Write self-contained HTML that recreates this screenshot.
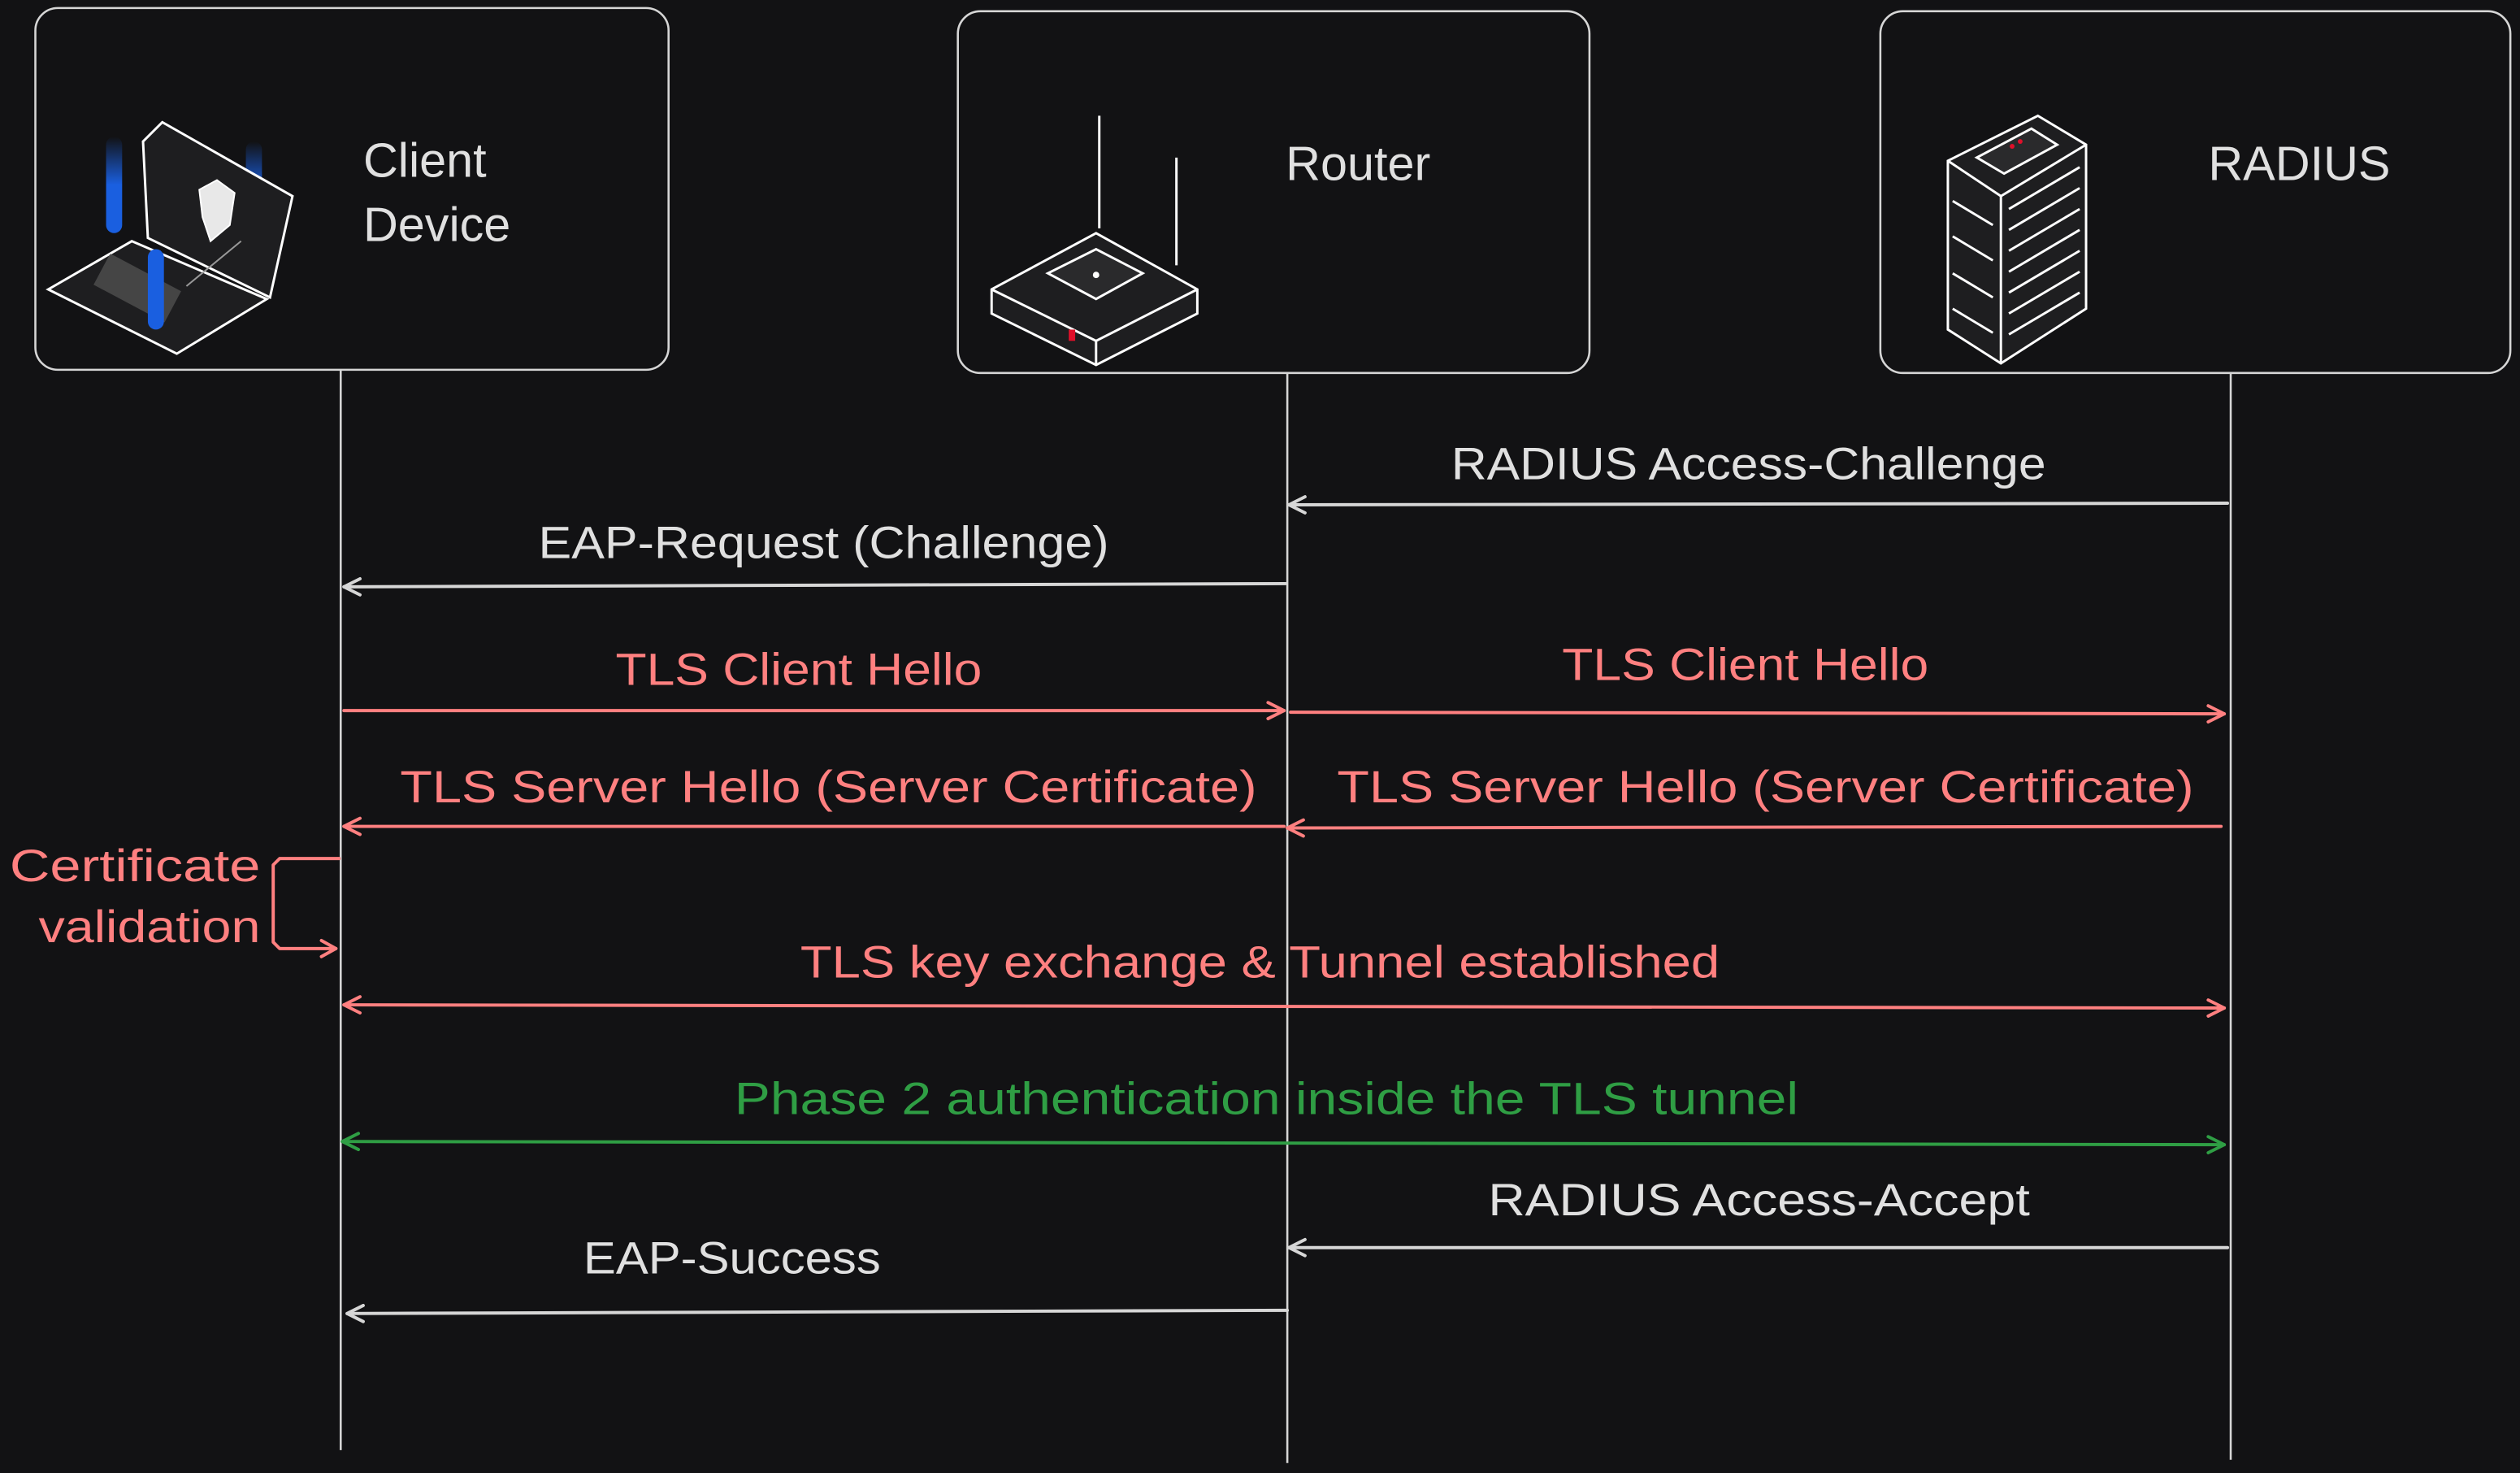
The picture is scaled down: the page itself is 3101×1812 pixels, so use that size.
<!DOCTYPE html>
<html><head><meta charset="utf-8"><style>
html,body{margin:0;padding:0;background:#121214;}
svg{display:block;}
text{font-family:"Liberation Sans",sans-serif;}
</style></head><body>
<svg width="3101" height="1812" viewBox="0 0 1568 916.2" preserveAspectRatio="none" xmlns="http://www.w3.org/2000/svg">
<defs>
<linearGradient id="bl" x1="0" y1="0" x2="0" y2="1"><stop offset="0" stop-color="#1a5fe0" stop-opacity="0"/><stop offset="0.5" stop-color="#1a5fe0"/><stop offset="1" stop-color="#1a5fe0"/></linearGradient>
</defs>
<rect width="1568" height="917" fill="#121214"/>
<!-- boxes -->
<g fill="#121214" stroke="#d6d6d6" stroke-width="1.3">
<rect x="22" y="5" width="394" height="225" rx="14"/>
<rect x="596" y="7" width="393" height="225" rx="14"/>
<rect x="1170" y="7" width="392" height="225" rx="14"/>
</g>
<!-- lifelines -->
<g stroke="#d6d6d6" stroke-width="1.3">
<line x1="212" y1="230" x2="212" y2="902"/>
<line x1="801" y1="232" x2="801" y2="910"/>
<line x1="1388" y1="232" x2="1388" y2="908"/>
</g>
<!-- titles -->
<g fill="#e0e0e0" font-size="30">
<text x="226" y="110">Client</text>
<text x="226" y="150">Device</text>
<text x="800" y="112">Router</text>
<text x="1374" y="112">RADIUS</text>
</g>
<!-- laptop icon -->
<rect x="66" y="85" width="10" height="60" rx="5" fill="url(#bl)"/>
<rect x="153" y="88" width="10" height="60" rx="5" fill="url(#bl)"/>
<g stroke="#fff" stroke-width="1.5" fill="#1e1e20">
<polygon points="89,88 101,76 182,122 168,185 92,148"/>
<polygon points="30,180 82,150 166,186 110,220"/>
</g>
<path d="M124,118 L135,112 L146,120 L143,140 L131,150 L126,135 Z" fill="#e8e8e8" stroke="#fff"/>
<line x1="116" y1="178" x2="150" y2="150" stroke="#999" stroke-width="1"/>
<rect x="60" y="168" width="50" height="22" fill="#555" transform="rotate(28 85 180)" opacity="0.7"/>
<rect x="92" y="155" width="10" height="50" rx="5" fill="#1a5fe0"/>
<!-- router icon -->
<g stroke="#fff" stroke-width="1.5" fill="#1e1e20">
<line x1="684" y1="72" x2="684" y2="142"/>
<line x1="732" y1="98" x2="732" y2="165"/>
<polygon points="617,180 682,145 745,180 745,195 682,227 617,195"/>
<polyline points="617,180 682,212 745,180" fill="none"/>
<line x1="682" y1="212" x2="682" y2="227"/>
<polygon points="652,170 682,155 711,170 682,186" fill="#2a2a2c"/>
</g>
<circle cx="682" cy="171" r="2" fill="#fff"/>
<rect x="665" y="205" width="4" height="7" fill="#e0102a"/>
<!-- server icon -->
<g stroke="#fff" stroke-width="1.5" fill="#1e1e20">
<polygon points="1212,100 1268,72 1298,90 1298,192 1245,226 1212,205"/>
<polyline points="1212,100 1245,122 1298,90" fill="none"/>
<line x1="1245" y1="122" x2="1245" y2="226"/>
<polygon points="1230,98 1264,80 1280,90 1247,108" fill="#2a2a2c"/>
<path d="M1250,130 L1294,104 M1250,143 L1294,117 M1250,156 L1294,130 M1250,169 L1294,143 M1250,182 L1294,156 M1250,195 L1294,169 M1250,208 L1294,182" fill="none"/>
<path d="M1215,125 L1240,140 M1215,147 L1240,162 M1215,170 L1240,185 M1215,192 L1240,207" fill="none"/>
</g>
<circle cx="1252" cy="91" r="1.5" fill="#e0102a"/><circle cx="1257" cy="88" r="1.5" fill="#e0102a"/>
<!-- arrows -->
<g fill="none" stroke-width="2" stroke-linecap="round" stroke-linejoin="round">
<g stroke="#d6d6d6">
<line x1="1386" y1="313" x2="802" y2="314"/><polyline points="812,309 802,314 812,319"/>
<line x1="800" y1="363" x2="214" y2="365"/><polyline points="224,360 214,365 224,370"/>
<line x1="1386" y1="776" x2="802" y2="776"/><polyline points="812,771 802,776 812,781"/>
<line x1="801" y1="815" x2="216" y2="817"/><polyline points="226,812 216,817 226,822"/>
</g>
<g stroke="#ff8080">
<line x1="214" y1="442" x2="799" y2="442"/><polyline points="789,437 799,442 789,447"/>
<line x1="803" y1="443" x2="1384" y2="444"/><polyline points="1374,439 1384,444 1374,449"/>
<line x1="799" y1="514" x2="214" y2="514"/><polyline points="224,509 214,514 224,519"/>
<line x1="1382" y1="514" x2="801" y2="515"/><polyline points="811,510 801,515 811,520"/>
<polyline points="211,534 174,534 170,538 170,586 174,590 209,590"/><polyline points="200,585 209,590 200,595"/>
<line x1="214" y1="625" x2="1384" y2="627"/><polyline points="224,620 214,625 224,630"/><polyline points="1374,622 1384,627 1374,632"/>
</g>
<g stroke="#2f9e44">
<line x1="213" y1="710" x2="1384" y2="712"/><polyline points="223,705 213,710 223,715"/><polyline points="1374,707 1384,712 1374,717"/>
</g>
</g>
<!-- labels -->
<g font-size="28">
<g fill="#e0e0e0">
<text x="903" y="298" textLength="370" lengthAdjust="spacingAndGlyphs">RADIUS Access-Challenge</text>
<text x="335" y="347" textLength="355" lengthAdjust="spacingAndGlyphs">EAP-Request (Challenge)</text>
<text x="926" y="756" textLength="337" lengthAdjust="spacingAndGlyphs">RADIUS Access-Accept</text>
<text x="363" y="792" textLength="185" lengthAdjust="spacingAndGlyphs">EAP-Success</text>
</g>
<g fill="#ff8080">
<text x="383" y="426" textLength="228" lengthAdjust="spacingAndGlyphs">TLS Client Hello</text>
<text x="972" y="423" textLength="228" lengthAdjust="spacingAndGlyphs">TLS Client Hello</text>
<text x="249" y="499" textLength="533" lengthAdjust="spacingAndGlyphs">TLS Server Hello (Server Certificate)</text>
<text x="832" y="499" textLength="533" lengthAdjust="spacingAndGlyphs">TLS Server Hello (Server Certificate)</text>
<text x="498" y="608" textLength="572" lengthAdjust="spacingAndGlyphs">TLS key exchange &amp; Tunnel established</text>
<text x="162" y="548" text-anchor="end" textLength="156" lengthAdjust="spacingAndGlyphs">Certificate</text>
<text x="162" y="586" text-anchor="end" textLength="138" lengthAdjust="spacingAndGlyphs">validation</text>
</g>
<text x="457" y="693" fill="#2f9e44" textLength="662" lengthAdjust="spacingAndGlyphs">Phase 2 authentication inside the TLS tunnel</text>
</g>
</svg>
</body></html>
